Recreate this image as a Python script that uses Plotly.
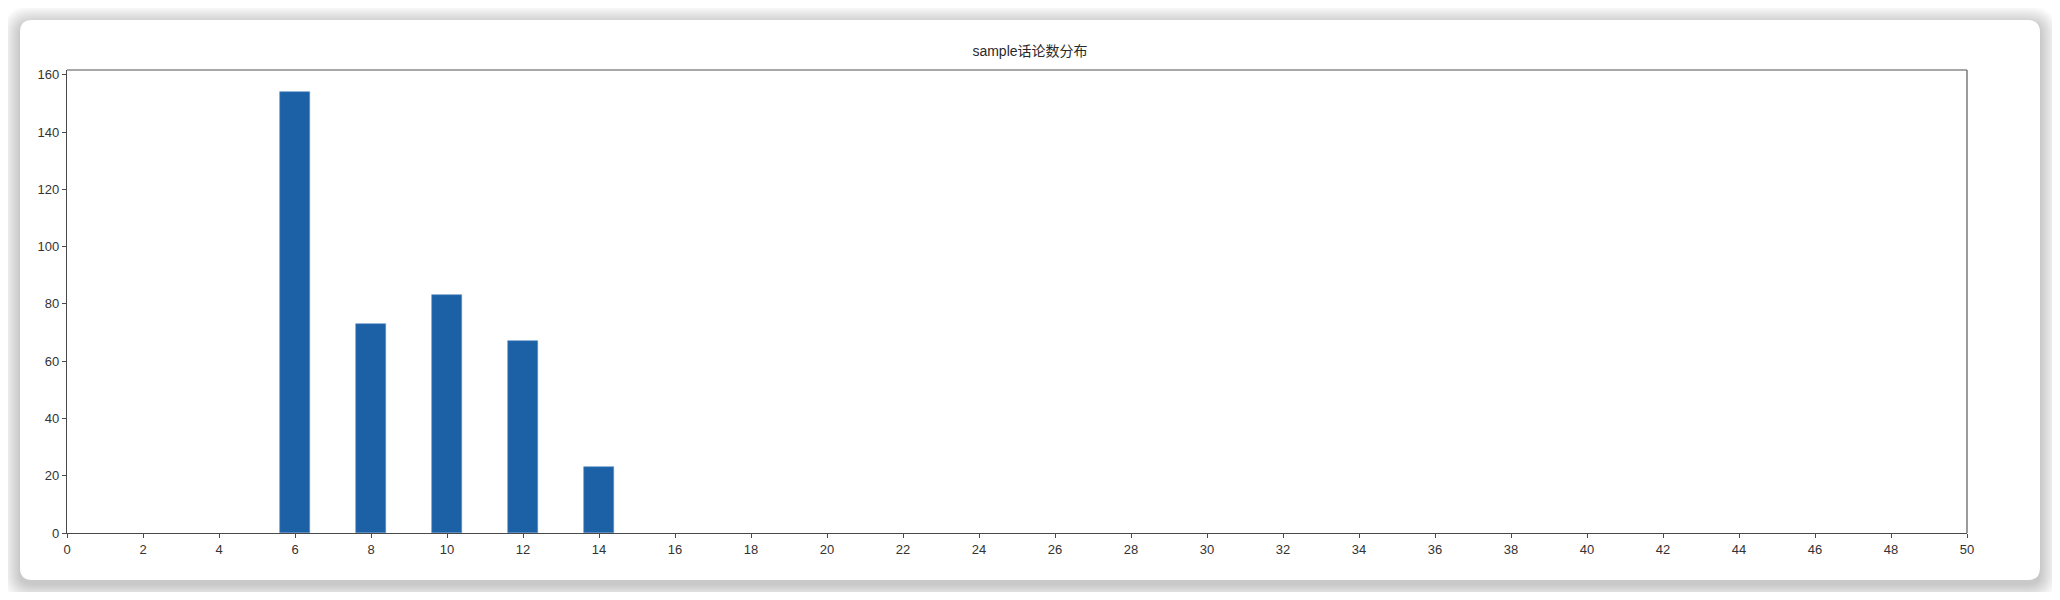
import plotly.graph_objects as go

# ---- data ----
categories = [6, 8, 10, 12, 14]
counts = [154, 73, 83, 67, 23]
x_ticks = list(range(0, 51, 2))
y_ticks = list(range(0, 161, 20))
title_text = "sample话论数分布"

# ---- layout geometry (page pixels; page body has an 8px margin) ----
OFF = 8
W, H = 2044, 584
L, R, T, B = 67 - OFF, 1967 - OFF, 70 - OFF, 533 - OFF
PW, PH = R - L, B - T


def px(x):
    return (x - OFF - L) / PW


def py(y):
    return (B - (y - OFF)) / PH


def rounded_path(x0, y0, x1, y1, r):
    pts = [
        ("M", [(x0 + r, y0)]),
        ("L", [(x1 - r, y0)]),
        ("Q", [(x1, y0), (x1, y0 + r)]),
        ("L", [(x1, y1 - r)]),
        ("Q", [(x1, y1), (x1 - r, y1)]),
        ("L", [(x0 + r, y1)]),
        ("Q", [(x0, y1), (x0, y1 - r)]),
        ("L", [(x0, y0 + r)]),
        ("Q", [(x0, y0), (x0 + r, y0)]),
    ]
    s = ""
    for cmd, ps in pts:
        s += cmd + " " + " ".join(f"{px(a):.6f},{py(b):.6f}" for a, b in ps) + " "
    return s + "Z"


shapes = []
# soft drop shadow layers
for i in range(18, 0, -1):
    shapes.append(dict(
        type="path", xref="paper", yref="paper", layer="below",
        path=rounded_path(20 - i, 20 - i + 4, 2040 + i, 580 + i + 4, 12 + i),
        fillcolor="rgba(0,0,0,0.010)", line=dict(width=0),
    ))
# card
shapes.append(dict(
    type="path", xref="paper", yref="paper", layer="below",
    path=rounded_path(20, 20, 2040, 580, 12),
    fillcolor="white", line=dict(width=0),
))
# top and right spines
shapes.append(dict(type="line", xref="paper", yref="paper", x0=0, x1=1, y0=1, y1=1,
                   line=dict(color="#8a8a8a", width=1.6)))
shapes.append(dict(type="line", xref="paper", yref="paper", x0=1, x1=1, y0=0, y1=1,
                   line=dict(color="#707070", width=1.4)))

fig = go.Figure()
fig.add_trace(go.Bar(
    x=categories, y=counts, width=0.8,
    marker=dict(color="#1c60a5", line=dict(width=0.6, color="#5b8fc7")),
    hoverinfo="x+y",
))

font_family = "Liberation Sans, Arial, Noto Sans CJK SC, sans-serif"
fig.update_layout(
    width=W, height=H,
    margin=dict(l=L, r=W - R, t=T, b=H - B, pad=0),
    paper_bgcolor="white", plot_bgcolor="rgba(0,0,0,0)",
    showlegend=False,
    shapes=shapes,
    font=dict(family=font_family, size=13, color="#333333"),
    title=dict(text=title_text, x=px(1017), xanchor="center",
               y=1 - (51 - OFF) / H, yanchor="middle",
               font=dict(family="Liberation Sans, Noto Sans CJK SC, sans-serif", size=14, color="#2a2a2a")),
    xaxis=dict(range=[0, 50], tickmode="array", tickvals=x_ticks,
               ticktext=[str(v) for v in x_ticks],
               showgrid=False, zeroline=False, showline=True, linecolor="#4a4a4a", linewidth=1.4,
               ticks="outside", ticklen=4, tickwidth=1.2, tickcolor="#4a4a4a",
               tickfont=dict(size=13, color="#333333")),
    yaxis=dict(range=[0, 161.7], tickmode="array", tickvals=y_ticks,
               ticktext=[str(v) for v in y_ticks],
               showgrid=False, zeroline=False, showline=True, linecolor="#4a4a4a", linewidth=1.4,
               ticks="outside", ticklen=4, tickwidth=1.2, tickcolor="#4a4a4a",
               tickfont=dict(size=13, color="#333333")),
    bargap=0,
)

fig.write_html("out.html")
